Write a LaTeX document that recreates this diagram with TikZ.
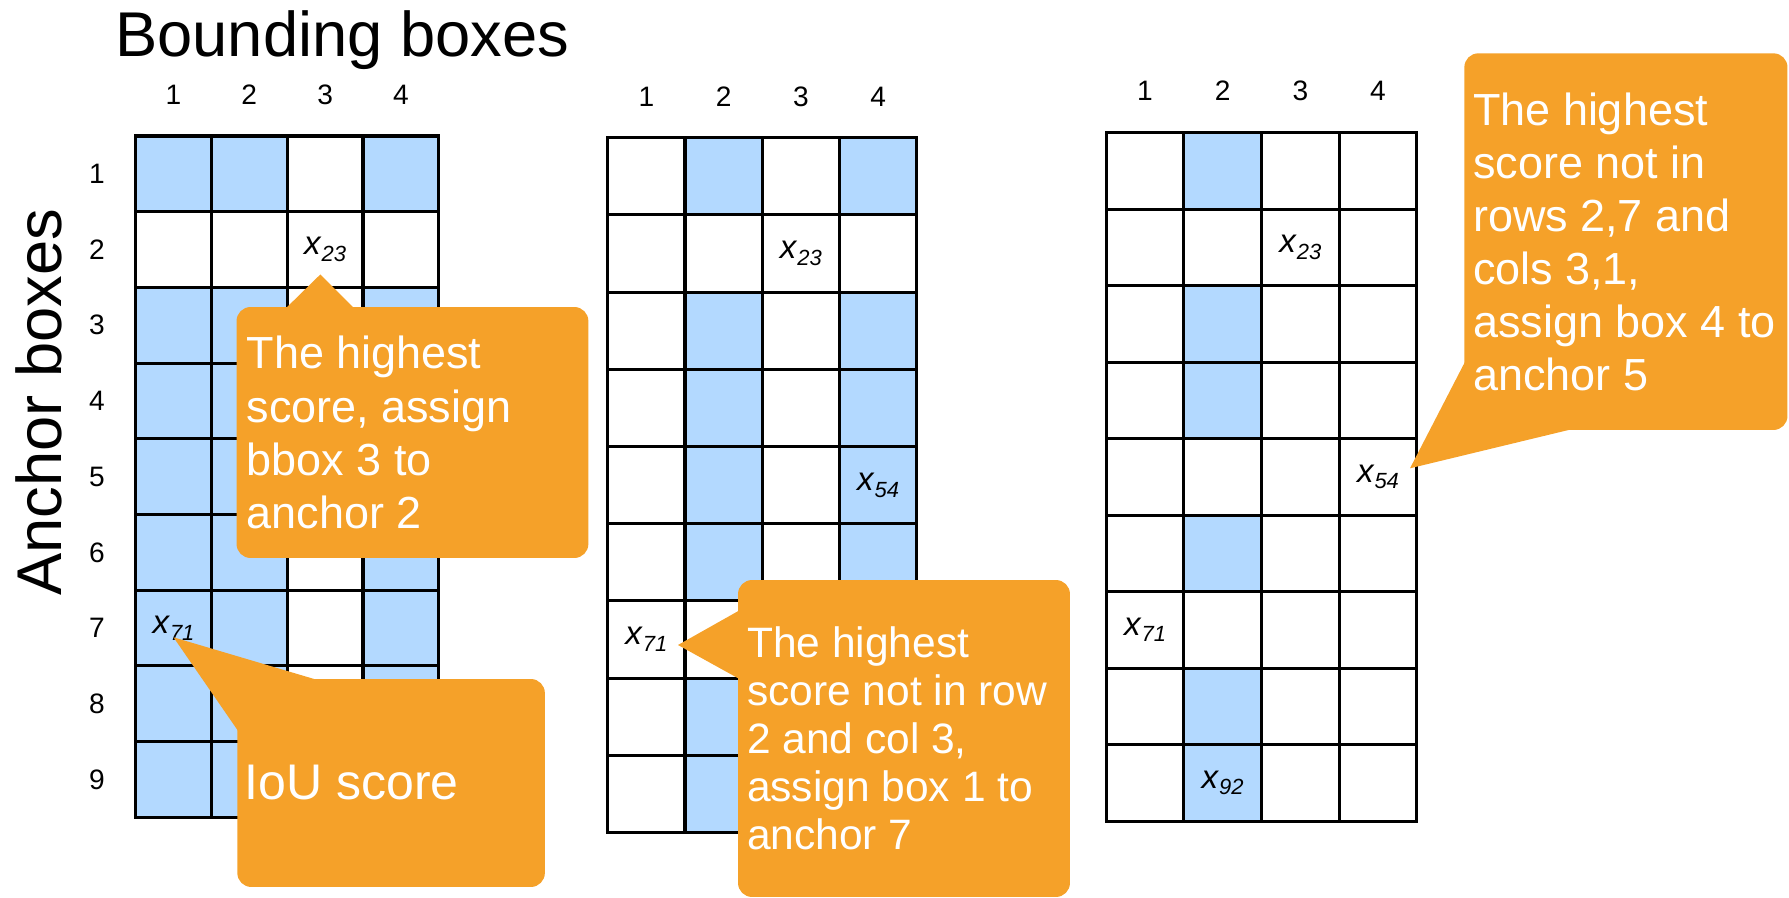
\documentclass[tikz,border=0pt]{standalone}
\usepackage{fontspec}
\setmainfont{Liberation Sans}
\usepackage{tikz}
\usetikzlibrary{calc, positioning}

\definecolor{ioublue}{RGB}{179,217,255}
\definecolor{tiporange}{RGB}{245,161,41}

% x with a lowered subscript, as in the cells
\newcommand{\xs}[1]{\textit{x}\raisebox{-0.2em}{\fontsize{12.5}{14}\selectfont\textit{#1}}}

% 4 x 9 grid of lines: origin x, origin y, cell width, cell height
\newcommand{\drawgrid}[4]{%
  \foreach \gl in {0,...,4}
    \draw[gridline] ({#1+\gl*#3},#2) -- ({#1+\gl*#3},{#2+9*#4});
  \foreach \gl in {0,...,9}
    \draw[gridline] (#1,{#2+\gl*#4}) -- ({#1+4*#3},{#2+\gl*#4});
}

\begin{document}
\begin{tikzpicture}[
  x=0.02cm, y=-0.02cm,
  every node/.style = {inner sep=0pt},
  big/.style      = {font=\fontsize{36}{43}\selectfont},
  hdr/.style      = {font=\fontsize{16}{19}\selectfont},
  cell/.style     = {font=\fontsize{18.8}{22}\selectfont},
  iou/.style      = {fill=ioublue},
  gridline/.style = {line width=1.8pt, line cap=rect},
  tipbox/.style   = {fill=tiporange, rounded corners=0.28cm},
  tipfill/.style  = {fill=tiporange},
  tiptext/.style  = {text=white, align=left, anchor=west},
]
\useasboundingbox (0,0) rectangle (1789,898);

% Grid origins and cell sizes
\def\gAx{135.6}  \def\gAy{136}   \def\gAw{75.8}  \def\gAh{75.7}
\def\gBx{607.7}  \def\gBy{137.7} \def\gBw{77.25} \def\gBh{77.2}
\def\gCx{1106.2} \def\gCy{132.7} \def\gCw{77.65} \def\gCh{76.5}

% ── TITLES ────────────────────────────────────────────────────
\node[big, anchor=base west] (title) at (115,56.7) {Bounding boxes};
\node[big, rotate=90, anchor=base west] (anchors) at (61,596) {Anchor boxes};

% ── GRID 1 ────────────────────────────────────────────────────
\foreach \cn/\ra/\rb in {1/1/1, 2/1/1, 4/1/1, 1/3/9, 2/3/9, 4/3/9}
  \fill[iou] ({\gAx+(\cn-1)*\gAw},{\gAy+(\ra-1)*\gAh})
    rectangle ++(\gAw,{(\rb-\ra+1)*\gAh});
\drawgrid{\gAx}{\gAy}{\gAw}{\gAh}
\foreach \n in {1,...,4}
  \node[hdr] (hA\n) at ({\gAx+(\n-0.5)*\gAw},95) {\n};
\foreach \n in {1,...,9}
  \node[hdr] (rA\n) at (97,{\gAy+(\n-0.5)*\gAh}) {\n};
\node[cell] (A23) at ({\gAx+2.5*\gAw},{\gAy+1.5*\gAh}) {\xs{23}};
\node[cell] (A71) at ({\gAx+0.5*\gAw},{\gAy+6.5*\gAh}) {\xs{71}};

% ── GRID 2 ────────────────────────────────────────────────────
\foreach \cn/\ra/\rb in {2/1/1, 4/1/1, 2/3/6, 4/3/6, 2/8/9, 4/8/9}
  \fill[iou] ({\gBx+(\cn-1)*\gBw},{\gBy+(\ra-1)*\gBh})
    rectangle ++(\gBw,{(\rb-\ra+1)*\gBh});
\drawgrid{\gBx}{\gBy}{\gBw}{\gBh}
\foreach \n in {1,...,4}
  \node[hdr] (hB\n) at ({\gBx+(\n-0.5)*\gBw},96.7) {\n};
\node[cell] (B23) at ({\gBx+2.5*\gBw},{\gBy+1.5*\gBh}) {\xs{23}};
\node[cell] (B54) at ({\gBx+3.5*\gBw},{\gBy+4.5*\gBh}) {\xs{54}};
\node[cell] (B71) at ({\gBx+0.5*\gBw},{\gBy+6.5*\gBh}) {\xs{71}};

% ── GRID 3 ────────────────────────────────────────────────────
\foreach \cn/\ra/\rb in {2/1/1, 2/3/4, 2/6/6, 2/8/9}
  \fill[iou] ({\gCx+(\cn-1)*\gCw},{\gCy+(\ra-1)*\gCh})
    rectangle ++(\gCw,{(\rb-\ra+1)*\gCh});
\drawgrid{\gCx}{\gCy}{\gCw}{\gCh}
\foreach \n in {1,...,4}
  \node[hdr] (hC\n) at ({\gCx+(\n-0.5)*\gCw},91) {\n};
\node[cell] (C23) at ({\gCx+2.5*\gCw},{\gCy+1.5*\gCh}) {\xs{23}};
\node[cell] (C54) at ({\gCx+3.5*\gCw},{\gCy+4.5*\gCh}) {\xs{54}};
\node[cell] (C71) at ({\gCx+0.5*\gCw},{\gCy+6.5*\gCh}) {\xs{71}};
\node[cell] (C92) at ({\gCx+1.5*\gCw},{\gCy+8.5*\gCh}) {\xs{92}};

% ── CALLOUTS ──────────────────────────────────────────────────
\coordinate (tipA) at (320.3,274.5);
\coordinate (tipB) at (173.5,637.3);
\coordinate (tipC) at (678,645);
\coordinate (tipD) at (1410,468.3);

% highest score
\node[tipbox, minimum width=7.038cm, minimum height=5.02cm] (boxA) at (412.45,432.5) {};
\fill[tipfill] (tipA) -- ($(boxA.north west)+(48.2,3)$)
                      -- ($(boxA.north west)+(119.4,3)$) -- cycle;
\node[tiptext, font=\fontsize{25.6}{30.2}\selectfont] (txtA)
  at ($(boxA.west)+(10,0)$) {The highest\\score, assign\\bbox 3 to\\anchor 2};

% IoU score
\node[tipbox, minimum width=6.152cm, minimum height=4.16cm] (boxB) at (391.1,783) {};
\fill[tipfill] (tipB) -- ($(boxB.north west)+(86.2,3)$)
                      -- ($(boxB.north west)+(3,55)$) -- cycle;
\node[tiptext, font=\fontsize{28.5}{34}\selectfont] (txtB)
  at ($(boxB.west)+(7,0)$) {IoU score};

% second pick
\node[tipbox, minimum width=6.64cm, minimum height=6.34cm] (boxC) at (904,738.5) {};
\fill[tipfill] (tipC) -- ($(boxC.north west)+(3,30)$)
                      -- ($(boxC.north west)+(3,100)$) -- cycle;
\node[tiptext, font=\fontsize{24.2}{27.3}\selectfont] (txtC)
  at ($(boxC.west)+(9,0)$)
  {The highest\\score not in row\\2 and col 3,\\assign box 1 to\\anchor 7};

% third pick
\node[tipbox, minimum width=6.464cm, minimum height=7.534cm] (boxD) at (1625.9,241.65) {};
\fill[tipfill] (tipD) -- ($(boxD.north west)+(3,305)$)
                      -- ($(boxD.south west)+(115.7,-3)$) -- cycle;
\node[tiptext, font=\fontsize{25.6}{30.2}\selectfont] (txtD)
  at ($(boxD.west)+(8.7,0)$)
  {The highest\\score not in\\rows 2,7 and\\cols 3,1,\\assign box 4 to\\anchor 5};

\end{tikzpicture}
\end{document}
